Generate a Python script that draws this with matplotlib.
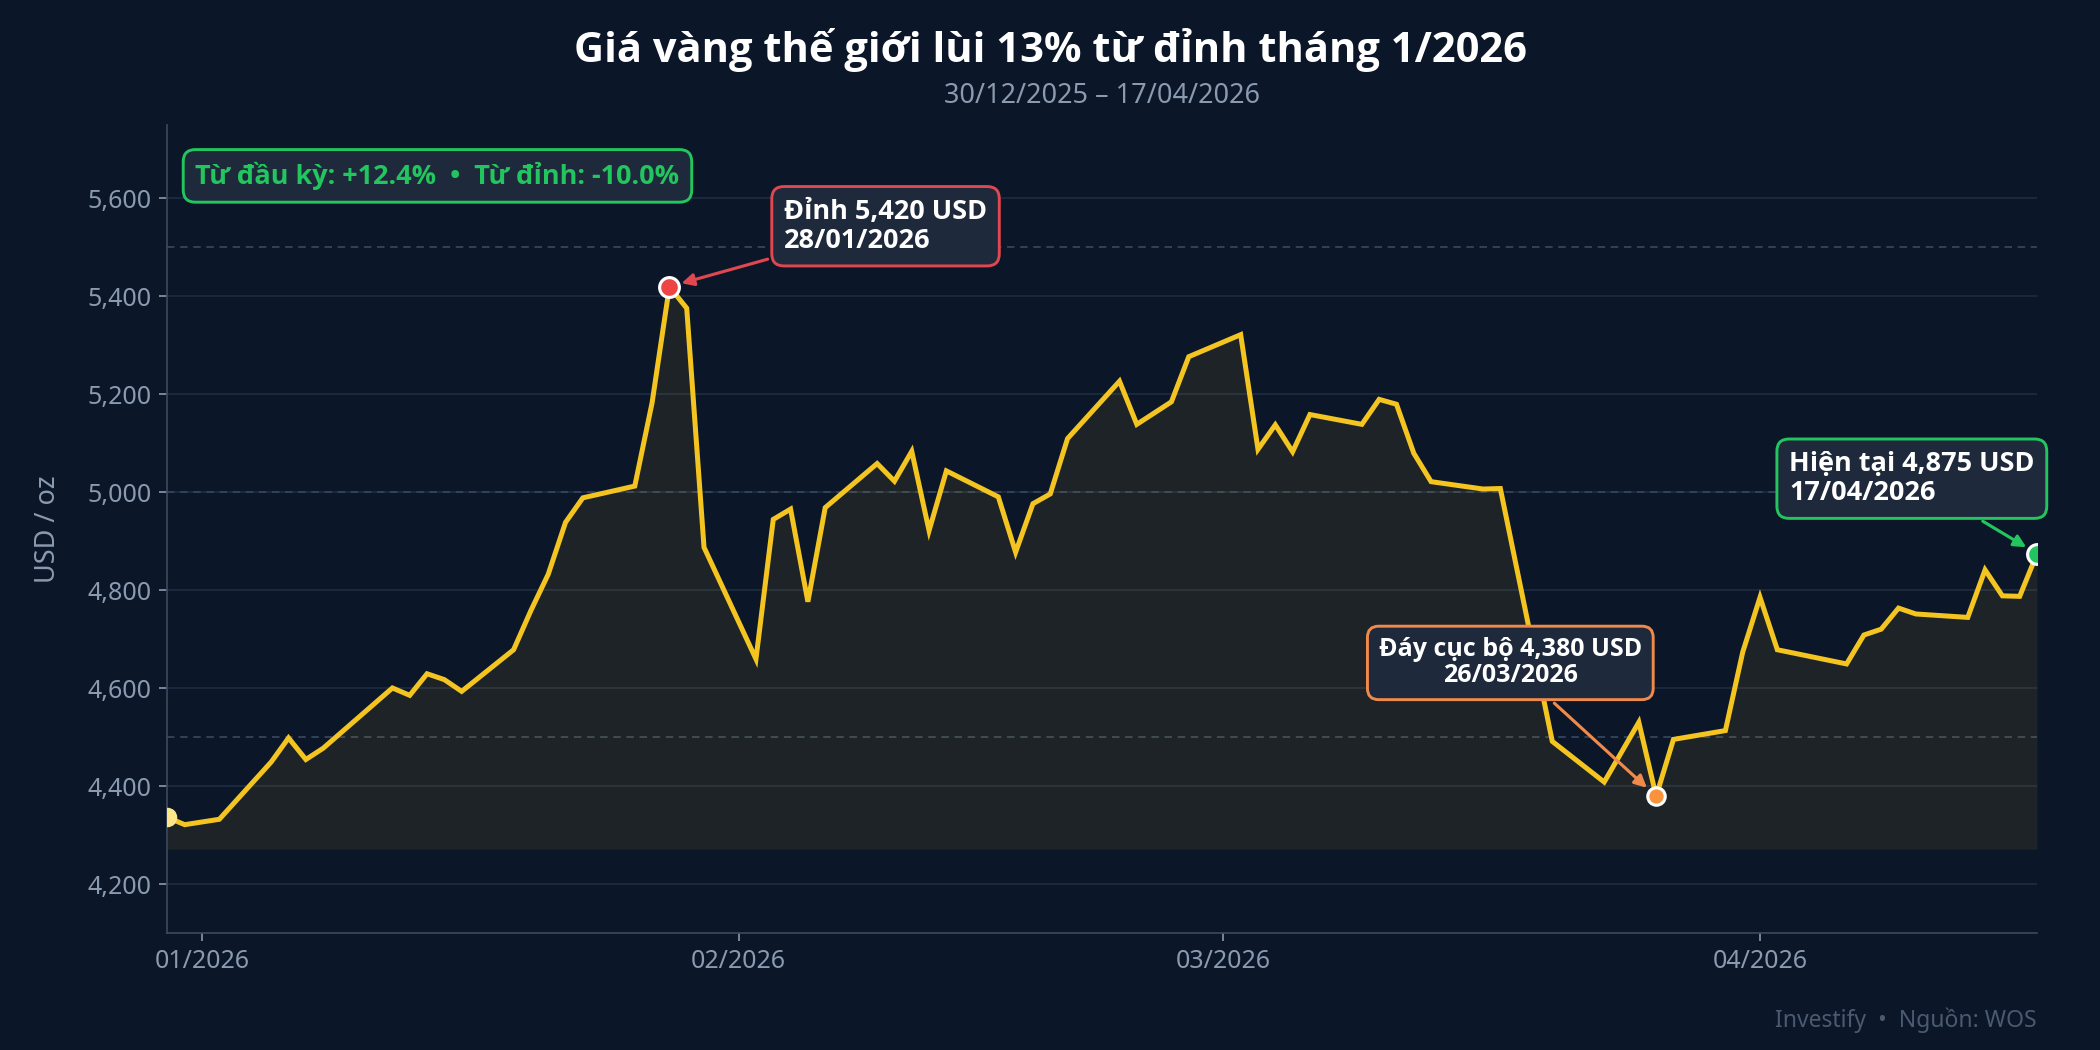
import matplotlib
matplotlib.use("Agg")
import matplotlib.pyplot as plt
import matplotlib.dates as mdates
from matplotlib import font_manager
import pandas as pd

# Gia vang the gioi (USD/oz), doc tu bieu do goc
NGAY = [
    "2025-12-30", "2025-12-31", "2026-01-02", "2026-01-05", "2026-01-06", "2026-01-07",
    "2026-01-08", "2026-01-12", "2026-01-13", "2026-01-14", "2026-01-15", "2026-01-16",
    "2026-01-19", "2026-01-20", "2026-01-21", "2026-01-22", "2026-01-23", "2026-01-26",
    "2026-01-27", "2026-01-28", "2026-01-29", "2026-01-30", "2026-02-02", "2026-02-03",
    "2026-02-04", "2026-02-05", "2026-02-06", "2026-02-09", "2026-02-10", "2026-02-11",
    "2026-02-12", "2026-02-13", "2026-02-16", "2026-02-17", "2026-02-18", "2026-02-19",
    "2026-02-20", "2026-02-23", "2026-02-24", "2026-02-25", "2026-02-26", "2026-02-27",
    "2026-03-02", "2026-03-03", "2026-03-04", "2026-03-05", "2026-03-06", "2026-03-09",
    "2026-03-10", "2026-03-11", "2026-03-12", "2026-03-13", "2026-03-16", "2026-03-17",
    "2026-03-20", "2026-03-23", "2026-03-25", "2026-03-26", "2026-03-27", "2026-03-30",
    "2026-03-31", "2026-04-01", "2026-04-02", "2026-04-06", "2026-04-07", "2026-04-08",
    "2026-04-09", "2026-04-10", "2026-04-13", "2026-04-14", "2026-04-15", "2026-04-16",
    "2026-04-17",
]
GIA = [
    4337, 4322, 4333, 4450, 4499, 4455,
    4478, 4601, 4586, 4630, 4618, 4594,
    4679, 4759, 4833, 4939, 4989, 5013,
    5183, 5420, 5376, 4888, 4660, 4945,
    4966, 4777, 4969, 5059, 5023, 5084,
    4922, 5044, 4991, 4878, 4977, 4997,
    5110, 5227, 5139, 5162, 5185, 5277,
    5322, 5088, 5138, 5083, 5159, 5139,
    5190, 5180, 5080, 5022, 5007, 5008,
    4492, 4409, 4531, 4380, 4496, 4514,
    4674, 4786, 4679, 4650, 4709, 4721,
    4764, 4752, 4745, 4842, 4789, 4788,
    4875,
]
NGAY_DAY = "2026-03-26"  # day cuc bo

TIEU_DE = "Giá vàng thế giới lùi 13% từ đỉnh tháng 1/2026"
PHU_DE = "30/12/2025 – 17/04/2026"
THONG_KE = "Từ đầu kỳ: +12.4%  •  Từ đỉnh: -10.0%"
NGUON = "Investify  •  Nguồn: WOS"

NEN = "#0b1628"
HOP = "#1e293b"
VANG = "#f4c520"
XAM = "#8a9ab0"


def chon_font():
    """Chon ho font co ban dam (bold) de chu dam hien dung."""
    for ten in ["Noto Sans", "Open Sans", "Roboto", "Lato"]:
        for f in font_manager.fontManager.ttflist:
            w = f.weight if isinstance(f.weight, int) else 400
            if f.name == ten and (w >= 600 or f.weight in ("bold", "semibold")):
                return ten
    return "DejaVu Sans"


FONT_DAM = chon_font()
plt.rcParams["font.family"] = ["Noto Sans", "DejaVu Sans"]
BOLD = dict(family=[FONT_DAM, "DejaVu Sans"], fontweight="bold")

x = pd.to_datetime(NGAY)
y = pd.Series(GIA, index=x)

fig = plt.figure(figsize=(14, 7), dpi=150, facecolor=NEN)
ax = fig.add_axes([0.0797, 0.111, 0.8903, 0.770])
ax.set_facecolor(NEN)

# luoi
for v in range(4200, 5601, 200):
    ax.axhline(v, color="#1c2a3f", lw=0.9, zorder=0)
for v in (4500, 5000, 5500):
    ax.axhline(v, color="#33435a", lw=0.9, ls=(0, (4, 3)), zorder=0)

day_fill = min(GIA) - 50
ax.fill_between(x, y.values, day_fill, color=VANG, alpha=0.08, lw=0, zorder=1)
ax.plot(x, y.values, color=VANG, lw=2.4, zorder=3, solid_joinstyle="miter")

# diem dau
ax.scatter([x[0]], [GIA[0]], s=70, color="#fde68a", zorder=4)

# dinh
i_dinh = y.values.argmax()
d_dinh, g_dinh = x[i_dinh], GIA[i_dinh]
ax.scatter([d_dinh], [g_dinh], s=90, color="#ef4444", edgecolor="white", lw=1.5, zorder=5)
ax.annotate("Đỉnh %s USD\n%s" % (format(g_dinh, ","), d_dinh.strftime("%d/%m/%Y")),
            xy=(d_dinh, g_dinh), xytext=(55, 29), textcoords="offset points",
            ha="left", va="center", fontsize=13, color="white", linespacing=1.15, **BOLD,
            bbox=dict(boxstyle="round,pad=0.45,rounding_size=0.45", fc=HOP, ec="#e0474f", lw=1.4),
            arrowprops=dict(arrowstyle="-|>", color="#e0474f", lw=1.5, shrinkB=6, mutation_scale=12),
            zorder=6)

# day cuc bo
d_day = pd.Timestamp(NGAY_DAY)
g_day = y[d_day]
ax.scatter([d_day], [g_day], s=70, color="#fb923c", edgecolor="white", lw=1.5, zorder=5)
ax.annotate("Đáy cục bộ %s USD\n%s" % (format(g_day, ","), d_day.strftime("%d/%m/%Y")),
            xy=(d_day, g_day), xytext=(-70, 64), textcoords="offset points",
            ha="center", va="center", fontsize=12, color="white", linespacing=1.05, **BOLD,
            bbox=dict(boxstyle="round,pad=0.45,rounding_size=0.45", fc=HOP, ec="#f08a4b", lw=1.4),
            arrowprops=dict(arrowstyle="-|>", color="#f08a4b", lw=1.5, shrinkB=6, mutation_scale=12),
            zorder=6)

# hien tai
d_ht, g_ht = x[-1], GIA[-1]
ax.scatter([d_ht], [g_ht], s=90, color="#22c55e", edgecolor="white", lw=1.5, zorder=5)
ax.annotate("Hiện tại %s USD\n%s" % (format(g_ht, ","), d_ht.strftime("%d/%m/%Y")),
            xy=(d_ht, g_ht), xytext=(-119, 36), textcoords="offset points",
            ha="left", va="center", fontsize=13, color="white", linespacing=1.15, **BOLD,
            bbox=dict(boxstyle="round,pad=0.45,rounding_size=0.45", fc=HOP, ec="#22c55e", lw=1.4),
            arrowprops=dict(arrowstyle="-|>", color="#22c55e", lw=1.5, shrinkB=6, mutation_scale=12),
            zorder=6, annotation_clip=False)

ax.text(0.015, 0.937, THONG_KE, transform=ax.transAxes, ha="left", va="center",
        fontsize=13, color="#22c55e", **BOLD,
        bbox=dict(boxstyle="round,pad=0.45,rounding_size=0.45", fc=HOP, ec="#22c55e", lw=1.4))

ax.set_xlim(x[0], x[-1])
ax.set_ylim(4100, 5750)
ax.set_yticks(range(4200, 5601, 200))
ax.yaxis.set_major_formatter(matplotlib.ticker.FuncFormatter(lambda v, p: format(int(v), ",")))
ax.xaxis.set_major_locator(mdates.MonthLocator())
ax.xaxis.set_major_formatter(mdates.DateFormatter("%m/%Y"))

ax.tick_params(colors=XAM, labelsize=12, length=4, width=0.8)
for s in ("top", "right"):
    ax.spines[s].set_visible(False)
for s in ("left", "bottom"):
    ax.spines[s].set_color("#3a4a60")
ax.set_ylabel("USD / oz", color=XAM, fontsize=13, labelpad=12)

fig.text(0.5, 0.952, TIEU_DE, ha="center", va="center", fontsize=20, color="white", **BOLD)
fig.text(0.525, 0.909, PHU_DE, ha="center", va="center", fontsize=13, color=XAM)
fig.text(0.970, 0.028, NGUON, ha="right", va="center", fontsize=11, color="#4a5a70")

fig.savefig("out.png", dpi=150, facecolor=NEN)
